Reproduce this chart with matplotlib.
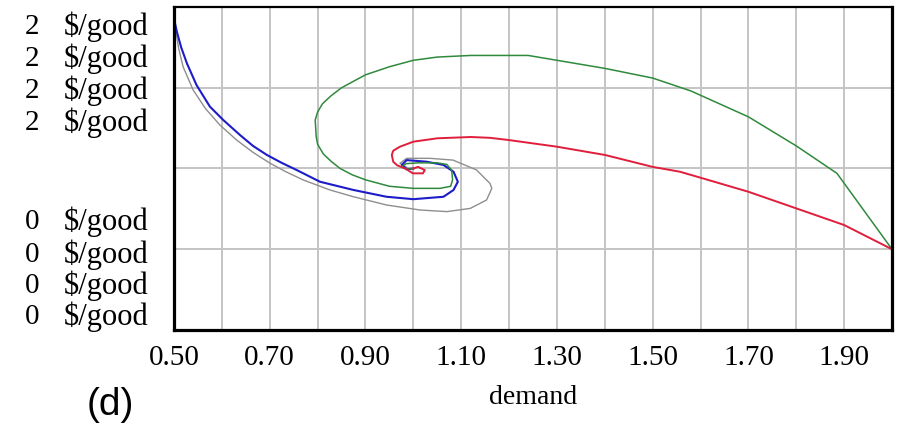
import matplotlib
matplotlib.use("Agg")
import matplotlib.pyplot as plt
import numpy as np

# phase trajectories (demand, price)
green_x = [2.00, 1.885, 1.80, 1.70, 1.58, 1.50, 1.40, 1.30, 1.24, 1.12, 1.05, 1.00, 0.95,
           0.90, 0.85, 0.828, 0.81, 0.80, 0.795, 0.797, 0.80, 0.812, 0.828, 0.847, 0.873,
           0.90, 0.95, 1.00, 1.056, 1.078, 1.082, 1.08, 1.07, 1.05, 1.01, 0.985, 0.975,
           0.985, 1.00]
green_y = [0.50, 0.97, 1.14, 1.32, 1.48, 1.56, 1.62, 1.67, 1.70, 1.70, 1.69, 1.67, 1.63,
           1.58, 1.50, 1.45, 1.40, 1.35, 1.30, 1.20, 1.15, 1.09, 1.045, 1.00, 0.96,
           0.93, 0.89, 0.877, 0.877, 0.89, 0.93, 0.99, 1.025, 1.035, 1.035, 1.03, 1.01,
           0.995, 1.00]

red_x = [2.00, 1.90, 1.80, 1.70, 1.60, 1.557, 1.50, 1.40, 1.30, 1.20, 1.16, 1.12, 1.05,
         1.00, 0.972, 0.958, 0.955, 0.958, 0.966, 0.983, 0.999, 1.02, 1.024, 1.01, 1.00]
red_y = [0.50, 0.65, 0.753, 0.856, 0.943, 0.98, 1.01, 1.084, 1.135, 1.176, 1.19, 1.195, 1.187,
         1.166, 1.135, 1.11, 1.084, 1.042, 1.02, 1.00, 0.97, 0.97, 0.99, 1.01, 1.00]

blue_x = [0.500, 0.502, 0.506, 0.515, 0.527, 0.547, 0.575, 0.603, 0.638, 0.665, 0.694, 0.725,
          0.756, 0.805, 0.875, 0.944, 1.00, 1.063, 1.084, 1.093, 1.084, 1.063, 1.028, 0.986,
          0.976, 0.986, 1.00]
blue_y = [1.97, 1.90, 1.847, 1.75, 1.651, 1.517, 1.383, 1.30, 1.207, 1.14, 1.084, 1.035,
          0.991, 0.918, 0.867, 0.825, 0.81, 0.825, 0.867, 0.918, 0.98, 1.022, 1.042, 1.052,
          1.022, 0.995, 1.00]

gray_x = [0.500, 0.504, 0.510, 0.519, 0.540, 0.566, 0.596, 0.631, 0.665, 0.701, 0.735, 0.770,
          0.826, 0.875, 0.944, 1.014, 1.070, 1.119, 1.153, 1.164, 1.160, 1.132, 1.083, 1.035,
          0.986, 0.972, 0.99, 1.00]
gray_y = [1.97, 1.85, 1.74, 1.630, 1.486, 1.37, 1.269, 1.176, 1.10, 1.032, 0.978, 0.929,
          0.867, 0.825, 0.774, 0.743, 0.733, 0.753, 0.805, 0.877, 0.908, 0.991, 1.052, 1.063,
          1.063, 1.032, 1.00, 1.00]

x_ticks = [0.5, 0.7, 0.9, 1.1, 1.3, 1.5, 1.7, 1.9]
x_labels = ["0.50", "0.70", "0.90", "1.10", "1.30", "1.50", "1.70", "1.90"]
y_top_labels = ["2", "2", "2", "2"]
y_bot_labels = ["0", "0", "0", "0"]
unit = r"\$/good"

W, H = 899, 423
fig = plt.figure(figsize=(W / 100, H / 100), dpi=100)
ax = fig.add_axes([174 / W, 1 - 330 / H, (892 - 174) / W, (330 - 7) / H])

ax.plot(gray_x, gray_y, color="#8e8e8e", lw=1.0)
ax.plot(blue_x, blue_y, color="#1c1cc8", lw=1.5)
ax.plot(green_x, green_y, color="#2f8a3c", lw=1.1)
ax.plot(red_x, red_y, color="#e01e3c", lw=1.4)

ax.set_xlim(0.5, 2.0)
ax.set_ylim(0, 2)
ax.set_xticks(x_ticks)
ax.set_xticklabels(x_labels, family="Liberation Serif", fontsize=21)
ax.set_xticks(np.arange(0.6, 2.0, 0.2), minor=True)
ax.set_yticks([0.5, 1.0, 1.5])
ax.set_yticklabels([])
ax.tick_params(which="both", length=0, pad=11)
ax.grid(True, which="both", color="#c4c4c4", lw=1.4)
ax.set_axisbelow(True)

for side in ["left", "bottom", "right"]:
    ax.spines[side].set_linewidth(2.3)
ax.spines["top"].set_linewidth(1.6)

ax.set_xlabel("demand", family="Liberation Serif", fontsize=20, labelpad=10)

y_top_pos = [26.7, 59, 91, 123]
y_bot_pos = [222, 255, 286, 317]
for lab, py in zip(y_top_labels + y_bot_labels, y_top_pos + y_bot_pos):
    fig.text(32 / W, 1 - py / H, lab, ha="center", va="center",
             family="Liberation Serif", fontsize=21)
    fig.text(64 / W, 1 - py / H, unit, ha="left", va="center",
             family="Liberation Serif", fontsize=22)

fig.text(110 / W, 1 - 405 / H, "(d)", ha="center", va="center",
         family="Liberation Sans", fontsize=28)

fig.savefig("out.png", dpi=100)
